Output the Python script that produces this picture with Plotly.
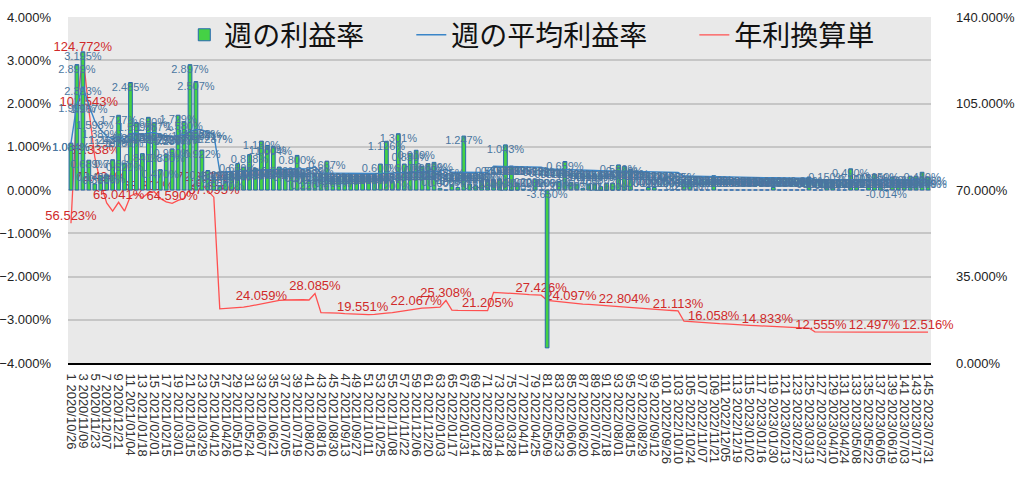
import plotly.graph_objects as go
import pandas as pd

# ---------------- data ----------------
week_no = list(range(1, 146))
first_week = "2020-10-26"
week_dates = [d.strftime("%Y/%m/%d") for d in pd.date_range(first_week, periods=145, freq="7D")]
tick_weeks = week_no[::2]
tick_text = [f"{i} {week_dates[i - 1]}" for i in tick_weeks]

# 週の利益率 (%)
weekly_rate = [
    1.084, 2.899, 3.195, 0.689, 0.140, 0.330, 0.350, 0.700, 1.727, 0.620,
    2.485, 1.559, 0.840, 1.680, 1.557, 0.470, 0.830, 0.950, 1.729, 1.580,
    2.897, 2.507, 0.922, 0.450, 0.260, 0.100, 0.200, 0.400, 0.610, 0.530,
    0.818, 0.500, 1.130, 1.030, 1.004, 0.530, 0.450, 0.410, 0.800, 0.370,
    0.220, 0.330, 0.330, 0.667, 0.260, 0.300, 0.330, 0.330, 0.330, 0.330,
    0.330, 0.330, 0.600, 1.126, 0.200, 1.301, 0.600, 0.850, 0.919, 0.550,
    0.610, 0.639, 0.040, 0.000, 0.120, 0.060, 1.247, 0.140, 0.100, 0.220,
    0.240, 0.240, 0.260, 1.043, 0.553, 0.160, 0.020, 0.000, 0.252, 0.000,
    -3.650, 0.000, 0.200, 0.659, 0.180, 0.140, 0.040, 0.140, 0.140, 0.080,
    0.160, 0.160, 0.580, 0.540, 0.470, 0.000, 0.000, 0.060, 0.060, 0.000,
    0.000, 0.000, 0.000, 0.200, 0.200, 0.000, 0.000, 0.000, 0.330, 0.000,
    0.000, 0.000, 0.000, 0.000, 0.000, 0.000, 0.000, 0.000, 0.060, 0.000,
    0.000, 0.000, 0.000, 0.000, 0.300, 0.000, 0.000, 0.150, 0.220, 0.000,
    0.000, 0.490, 0.100, 0.000, 0.120, 0.370, 0.150, -0.014, 0.300, 0.200,
    0.250, 0.320, 0.320, 0.410, 0.300,
]

# 週の平均利益率 (%)
avg_rate = [
    1.084, 1.991, 2.393, 1.967, 1.598, 1.389, 1.243, 1.180, 1.247, 1.180,
    1.297, 1.318, 1.283, 1.320, 1.329, 1.277, 1.250, 1.239, 1.262, 1.277,
    1.352, 1.402, 1.388, 1.341, 1.287, 0.420, 0.422, 0.424, 0.428, 0.433,
    0.441, 0.451, 0.461, 0.472, 0.479, 0.485, 0.489, 0.491, 0.493, 0.491,
    0.489, 0.539, 0.391, 0.391, 0.389, 0.387, 0.384, 0.382, 0.380, 0.375,
    0.376, 0.378, 0.380, 0.387, 0.391, 0.399, 0.407, 0.412, 0.423, 0.426,
    0.428, 0.430, 0.433, 0.485, 0.410, 0.409, 0.409, 0.407, 0.407, 0.407,
    0.407, 0.549, 0.547, 0.545, 0.541, 0.537, 0.535, 0.531, 0.529, 0.526,
    0.485, 0.479, 0.474, 0.468, 0.462, 0.460, 0.456, 0.455, 0.451, 0.449,
    0.445, 0.443, 0.440, 0.437, 0.433, 0.430, 0.426, 0.422, 0.418, 0.414,
    0.410, 0.408, 0.405, 0.324, 0.320, 0.316, 0.314, 0.311, 0.308, 0.305,
    0.303, 0.299, 0.297, 0.295, 0.292, 0.290, 0.287, 0.284, 0.283, 0.281,
    0.279, 0.277, 0.275, 0.273, 0.271, 0.242, 0.241, 0.241, 0.240, 0.240,
    0.240, 0.240, 0.240, 0.240, 0.240, 0.240, 0.240, 0.240, 0.240, 0.240,
    0.240, 0.240, 0.240, 0.240, 0.240,
]

# 年利換算単 (%)
annual_rate = [
    56.523, 103.8, 124.772, 102.543, 83.338, 72.424, 64.8, 61.5, 65.041, 61.5,
    67.6, 68.7, 66.9, 68.801, 69.3, 66.6, 65.2, 64.590, 65.8, 66.6,
    70.5, 73.1, 72.351, 69.9, 67.095, 21.9, 22.0, 22.1, 22.3, 22.6,
    23.0, 23.5, 24.059, 24.6, 25.0, 25.3, 25.5, 25.6, 25.7, 25.6,
    25.5, 28.085, 20.4, 20.4, 20.3, 20.2, 20.0, 19.9, 19.8, 19.551,
    19.6, 19.7, 19.8, 20.2, 20.4, 20.8, 21.2, 21.5, 22.067, 22.2,
    22.3, 22.4, 22.6, 25.308, 21.4, 21.3, 21.3, 21.2, 21.2, 21.2,
    21.205, 28.6, 28.5, 28.4, 28.2, 28.0, 27.9, 27.7, 27.6, 27.426,
    25.3, 25.0, 24.7, 24.4, 24.097, 24.0, 23.8, 23.7, 23.5, 23.4,
    23.2, 23.1, 22.95, 22.804, 22.6, 22.4, 22.2, 22.0, 21.8, 21.6,
    21.4, 21.25, 21.113, 16.9, 16.7, 16.5, 16.35, 16.2, 16.058, 15.9,
    15.8, 15.6, 15.5, 15.4, 15.25, 15.1, 14.95, 14.833, 14.75, 14.65,
    14.55, 14.45, 14.35, 14.25, 14.15, 12.6, 12.555, 12.54, 12.53, 12.52,
    12.51, 12.51, 12.50, 12.50, 12.50, 12.497, 12.50, 12.50, 12.51, 12.51,
    12.51, 12.52, 12.52, 12.52, 12.516,
]

annual_label_weeks = [1, 3, 4, 5, 6, 9, 14, 18, 23, 25, 33, 42, 50, 59, 64,
                      71, 80, 85, 94, 103, 109, 118, 127, 136, 145]

# ---------------- styles ----------------
FONT = "Liberation Sans, Arial, sans-serif"
JP_FONT = "Noto Sans CJK JP, sans-serif"
LABEL_BLUE = "#4a76a0"
LABEL_RED = "#d02a2a"
BG = "#e9e9e9"
GRID = "#c6c6c6"
GAP = "\u3000\u2002"

fig = go.Figure()

# red line (right axis, base layer)
fig.add_trace(go.Scatter(
    x=week_no, y=annual_rate, yaxis="y", mode="lines", name="年利換算単",
    line=dict(color="#ff5050", width=1.3), legendrank=3,
))

# bars (left axis)
fig.add_trace(go.Bar(
    x=week_no, y=weekly_rate, yaxis="y2", name="週の利益率" + GAP,
    marker=dict(color="#45d145", line=dict(color="#2768b0", width=1)),
    width=0.62, legendrank=1,
))

# blue average line
fig.add_trace(go.Scatter(
    x=week_no, y=avg_rate, yaxis="y2", mode="lines", name="週の平均利益率" + GAP,
    line=dict(color="#3a85c8", width=1.4), legendrank=2,
))

# bar labels
bar_label_y = [max(v, 0) for v in weekly_rate]
bar_label_pos = ["bottom center" if (v > 0.15 or v < 0) else "top center" for v in weekly_rate]
fig.add_trace(go.Scatter(
    x=week_no, y=bar_label_y, yaxis="y2", mode="text",
    text=[f"{v:.3f}%" for v in weekly_rate], textposition=bar_label_pos,
    textfont=dict(family=FONT, size=11, color=LABEL_BLUE),
    showlegend=False, hoverinfo="skip", cliponaxis=False,
))

# average labels
fig.add_trace(go.Scatter(
    x=week_no, y=avg_rate, yaxis="y2", mode="text",
    text=[f"{v:.3f}%" for v in avg_rate], textposition="bottom center",
    textfont=dict(family=FONT, size=11, color=LABEL_BLUE),
    showlegend=False, hoverinfo="skip", cliponaxis=False,
))

# annual labels (selected points)
fig.add_trace(go.Scatter(
    x=annual_label_weeks, y=[annual_rate[i - 1] for i in annual_label_weeks], yaxis="y",
    mode="text", text=[f"{annual_rate[i - 1]:.3f}%" for i in annual_label_weeks],
    textposition="top center",
    textfont=dict(family=FONT, size=13, color=LABEL_RED),
    showlegend=False, hoverinfo="skip", cliponaxis=False,
))

fig.update_layout(
    width=1024, height=482,
    margin=dict(l=68, r=93, t=17, b=119, autoexpand=False),
    paper_bgcolor="white", plot_bgcolor=BG,
    font=dict(family=FONT, size=13, color="#222"),
    bargap=0.3,
    xaxis=dict(
        range=[0.5, 145.5], tickmode="array", tickvals=tick_weeks, ticktext=tick_text,
        tickangle=90, tickfont=dict(family=FONT, size=13, color="#333"),
        showgrid=False, zeroline=False, showline=True, linecolor="black", linewidth=2,
        ticks="", ticklabelstandoff=6, automargin=False,
    ),
    yaxis=dict(
        side="right", range=[0, 140], tick0=0, dtick=35, tickformat=".3f", ticksuffix="%",
        showgrid=True, gridcolor=GRID, gridwidth=1.5, zeroline=False,
        minor=dict(tick0=0, dtick=17.5, showgrid=True, gridcolor=GRID, gridwidth=1.5),
        tickfont=dict(family=FONT, size=13, color="#222"), ticklabelstandoff=24,
        showline=False, automargin=False,
    ),
    yaxis2=dict(
        overlaying="y", side="left", range=[-4, 4], dtick=1, tickformat=".3f", ticksuffix="%",
        showgrid=False, zeroline=False, showline=False,
        tickfont=dict(family=FONT, size=13, color="#222"), ticklabelstandoff=16,
        automargin=False,
    ),
    legend=dict(
        orientation="h", x=0.538, xanchor="center", y=1.02, yanchor="top",
        font=dict(family=JP_FONT, size=28, color="#111"), bgcolor="rgba(0,0,0,0)",
        traceorder="normal",
    ),
    showlegend=True,
)

fig.write_html("out.html")
